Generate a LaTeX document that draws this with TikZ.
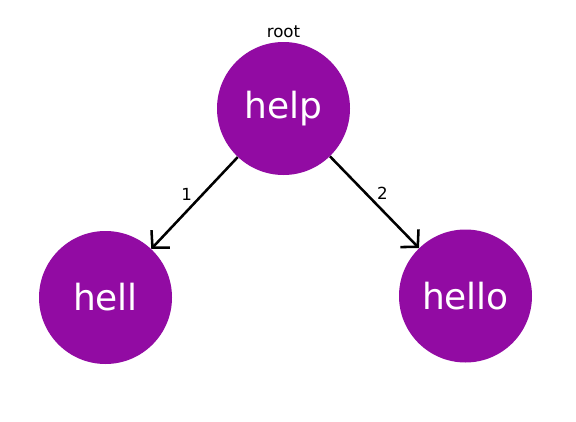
\documentclass[tikz,border=0pt]{standalone}
\usepackage{fontspec}
\setmainfont{DejaVu Sans}
\usepackage{tikz}
\usetikzlibrary{arrows.meta,positioning}
\definecolor{nodepurple}{RGB}{146,11,163}
\tikzstyle{word} = [circle, fill=nodepurple, draw=none, text=white, inner sep=0pt,
    minimum size=99.75pt, font=\fontsize{27}{32}\selectfont]
\tikzstyle{tag} = [font=\fontsize{12.5}{15}\selectfont, inner sep=1pt]
\tikzstyle{line} = [draw, line width=1.9pt, -{Straight Barb[length=9pt,width=19pt,line width=1.9pt]}]

\begin{document}
\begin{tikzpicture}[x=0.75pt, y=-0.75pt]
    \useasboundingbox (0,0) rectangle (576,422);
    % Place nodes
    \node [word] (help) at (283.5,108.5) {help};
    \node [word] (hell) at (105.5,297.5) {hell};
    \node [word] (hello) at (465.5,296) {hello};
    \node [tag, above=2pt of help] (root) {root};
    % Draw edges
    \path [line] (help) -- node [tag, above left] (one) {1} (hell);
    \path [line] (help) -- node [tag, above right] (two) {2} (hello);

\end{tikzpicture}
\end{document}
